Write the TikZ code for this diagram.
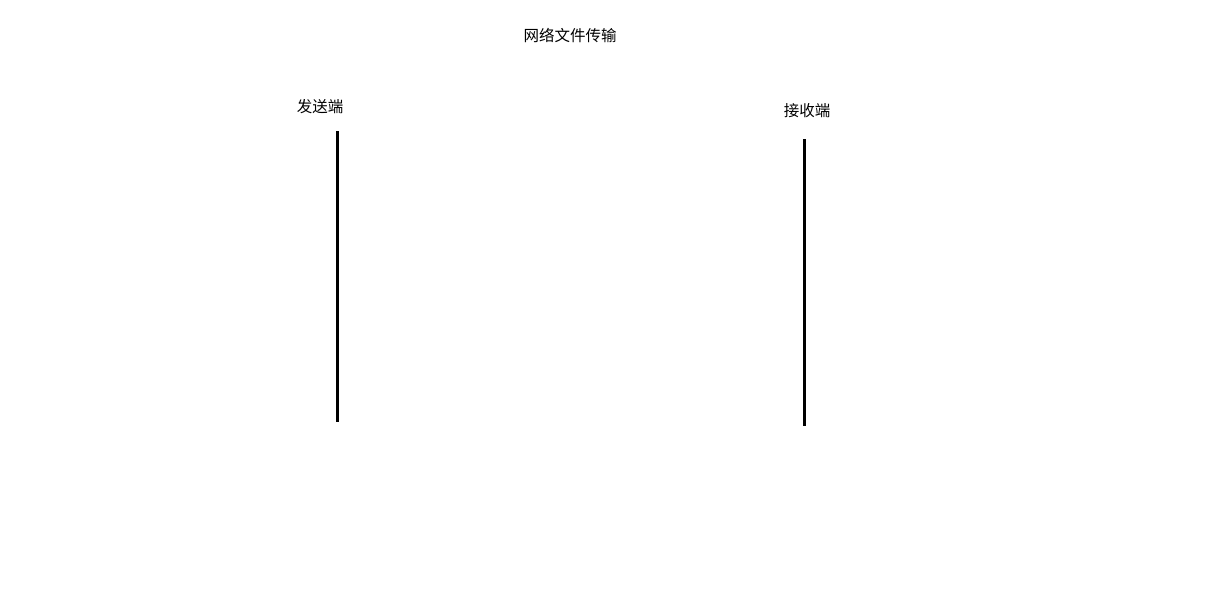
\documentclass[tikz,border=0pt]{standalone}
\usepackage{fontspec}
\newfontfamily\cjk{Noto Sans CJK SC}
\begin{document}
\begin{tikzpicture}[x=1pt,y=-1pt,
  lbl/.style={font=\cjk\fontsize{15.5}{18}\selectfont, inner sep=0pt, text=black},
  lifeline/.style={line width=3pt, black}]
\useasboundingbox[fill=white] (0,0) rectangle (1206,608);
\node[lbl] (title) at (570,36) {网络文件传输};
\node[lbl] (send) at (320,107) {发送端};
\node[lbl] (recv) at (807,111) {接收端};
\coordinate (s1) at (337,131);
\coordinate (s2) at (337,422);
\coordinate (r1) at (804,139);
\coordinate (r2) at (804,426);
\draw[lifeline] (s1) -- (s2);
\draw[lifeline] (r1) -- (r2);
\end{tikzpicture}
\end{document}
